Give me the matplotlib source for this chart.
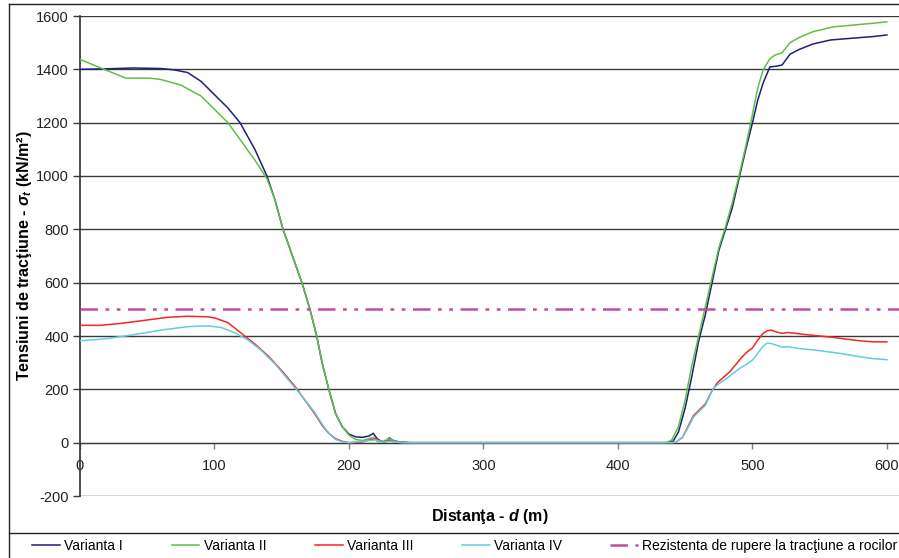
import matplotlib
matplotlib.use("Agg")
import matplotlib.pyplot as plt
from matplotlib.lines import Line2D

plt.rcParams['font.family'] = ['Liberation Sans', 'DejaVu Sans']
plt.rcParams['mathtext.fontset'] = 'custom'
plt.rcParams['mathtext.it'] = 'Liberation Sans:italic:bold'
plt.rcParams['mathtext.rm'] = 'Liberation Sans:bold'
plt.rcParams['mathtext.bf'] = 'Liberation Sans:bold'
plt.rcParams['axes.unicode_minus'] = False

# Distance (m) and tensile stress (kN/m^2) for each variant
x_I = [0, 20, 40, 60, 70, 80, 90, 100, 110, 119, 130, 139, 145, 151, 158, 165, 171, 176, 180, 185, 190, 195, 200,
       205, 210, 215, 218, 221, 224, 227, 230, 233, 237, 245, 300, 400, 437, 441, 445, 450, 455, 460, 465, 470,
       475, 480, 485, 490, 495, 500, 504, 508, 513, 518, 522, 528, 535, 545, 558, 570, 580, 590, 600]
y_I = [1400, 1402, 1405, 1403, 1398, 1388, 1355, 1305, 1255, 1200, 1100, 1000, 910, 800, 700, 600, 500, 400, 300, 200,
       110, 60, 32, 22, 20, 25, 35, 15, 5, 2, 18, 8, 3, 0, 0, 0, 0, 5, 40, 130, 250, 380, 480, 600,
       720, 800, 880, 990, 1098, 1199, 1285, 1349, 1409, 1412, 1416, 1457, 1475, 1495, 1510, 1515, 1519, 1523, 1529]

x_II = [0, 34, 52, 60, 75, 90, 100, 110, 120, 130, 139, 145, 151, 158, 165, 171, 176, 180, 185, 190, 195, 200,
        205, 210, 215, 218, 221, 224, 230, 235, 245, 300, 400, 436, 440, 445, 450, 455, 460, 465, 470, 475, 480,
        485, 490, 495, 500, 504, 508, 513, 517, 522, 528, 535, 545, 560, 575, 590, 600]
y_II = [1437, 1367, 1367, 1362, 1341, 1300, 1250, 1200, 1130, 1060, 990, 910, 800, 700, 600, 500, 400, 300, 200,
        110, 60, 28, 12, 8, 15, 20, 5, 2, 15, 4, 0, 0, 0, 0, 10, 60, 160, 290, 400, 510, 620, 730, 810,
        900, 1000, 1110, 1230, 1330, 1398, 1440, 1454, 1462, 1500, 1520, 1541, 1559, 1566, 1573, 1578]

x_III = [0, 15, 30, 50, 65, 80, 95, 100, 110, 120, 130, 140, 150, 160, 170, 175, 180, 185, 190, 195, 200,
         210, 215, 220, 225, 230, 235, 245, 300, 400, 440, 443, 448, 452, 456, 460, 465, 470, 474, 478, 483,
         488, 492, 496, 500, 504, 508, 511, 514, 518, 522, 526, 532, 540, 550, 560, 570, 580, 590, 600]
y_III = [440, 440, 447, 460, 470, 474, 472, 468, 450, 410, 370, 325, 270, 210, 140, 105, 65, 35, 15, 5, 0,
         3, 10, 15, 3, 8, 2, 0, 0, 0, 0, 2, 20, 60, 100, 120, 145, 195, 225, 243, 265,
         295, 320, 340, 355, 385, 410, 420, 422, 415, 410, 413, 410, 405, 400, 395, 388, 382, 378, 378]

x_IV = [0, 20, 40, 60, 80, 95, 105, 115, 125, 135, 145, 155, 165, 175, 180, 185, 190, 195, 200,
        215, 220, 225, 230, 240, 300, 400, 440, 443, 448, 452, 456, 460, 465, 471, 476, 482, 487, 491,
        496, 500, 504, 508, 511, 514, 518, 522, 526, 535, 550, 565, 580, 590, 600]
y_IV = [382, 390, 405, 422, 435, 438, 432, 412, 385, 345, 295, 235, 175, 110, 70, 35, 12, 3, 0,
        8, 10, 2, 5, 0, 0, 0, 0, 2, 20, 55, 95, 115, 140, 205, 224, 245, 265, 280,
        295, 310, 335, 362, 373, 372, 365, 358, 360, 353, 345, 335, 322, 315, 311]

rock_strength = 500  # tensile strength of the rock mass (kN/m^2)

labels = ['Varianta I', 'Varianta II', 'Varianta III', 'Varianta IV',
          'Rezistenta de rupere la tracţiune a rocilor']
colors = ['#1f1f7a', '#62bf45', '#f52525', '#62cde0', '#c04fa0']

y_ticks = list(range(-200, 1601, 200))
x_ticks = list(range(0, 601, 100))

W, H = 899, 558
fig = plt.figure(figsize=(W / 100, H / 100), dpi=100)
ax = fig.add_axes([80 / W, 1 - 496 / H, 1 - 80 / W, (496 - 16) / H])

series = [(x_I, y_I), (x_II, y_II), (x_III, y_III), (x_IV, y_IV)]
handles = []
for (xs, ys), c in zip(series, colors[:4]):
    h, = ax.plot(xs, ys, color=c, lw=1.1, zorder=3)
    handles.append(h)
hr = ax.axhline(rock_strength, color=colors[4], lw=1.8, dashes=(7, 3, 1.5, 3, 1.5, 3), zorder=3)
handles.append(hr)

ax.set_xlim(0, 609)
ax.set_ylim(-200, 1600)
ax.set_yticks(y_ticks)
ax.set_xticks(x_ticks)
ax.yaxis.grid(True, color='#3a3a3a', lw=1.0)
ax.set_axisbelow(True)

for s in ['top', 'right']:
    ax.spines[s].set_visible(False)
ax.spines['bottom'].set_position(('data', 0))
ax.spines['bottom'].set_color('#3a3a3a')
ax.spines['left'].set_color('#303030')
ax.spines['left'].set_linewidth(1.2)

ax.tick_params(axis='y', direction='out', length=5, width=1, color='#3a3a3a',
               labelsize=10.5, labelcolor='#222222', pad=3)
ax.tick_params(axis='x', direction='out', length=4, width=1, color='#808080',
               labelsize=10.5, labelcolor='#222222', pad=8)

ax.set_ylabel('Tensiuni de tracţiune - $\\sigma_t$ (kN/m²)', fontsize=11.5, fontweight='bold')
ax.yaxis.set_label_coords(-(80 - 34) / (W - 80), 0.5)
fig.text((80 + W) / 2 / W, 1 - 517 / H, 'Distanţa - $d$ (m)', fontsize=11.5, fontweight='bold',
         ha='center', va='center')

# Outer frame and legend separator
frame_kw = dict(color='#222222', lw=1.0, transform=fig.transFigure, clip_on=False)
fig.add_artist(Line2D([8.5 / W, 8.5 / W], [0, 1 - 4 / H], **frame_kw))
fig.add_artist(Line2D([8.5 / W, 1], [1 - 4 / H, 1 - 4 / H], **frame_kw))
fig.add_artist(Line2D([8.5 / W, 1], [1 - 533 / H, 1 - 533 / H], **frame_kw))

fig.legend(handles, labels, loc='center', bbox_to_anchor=(465 / W, 1 - 546 / H), ncol=5,
           frameon=False, fontsize=10, handlelength=2.0, handletextpad=0.3, columnspacing=3.5,
           borderpad=0, borderaxespad=0)

fig.savefig('out.png', dpi=100)
